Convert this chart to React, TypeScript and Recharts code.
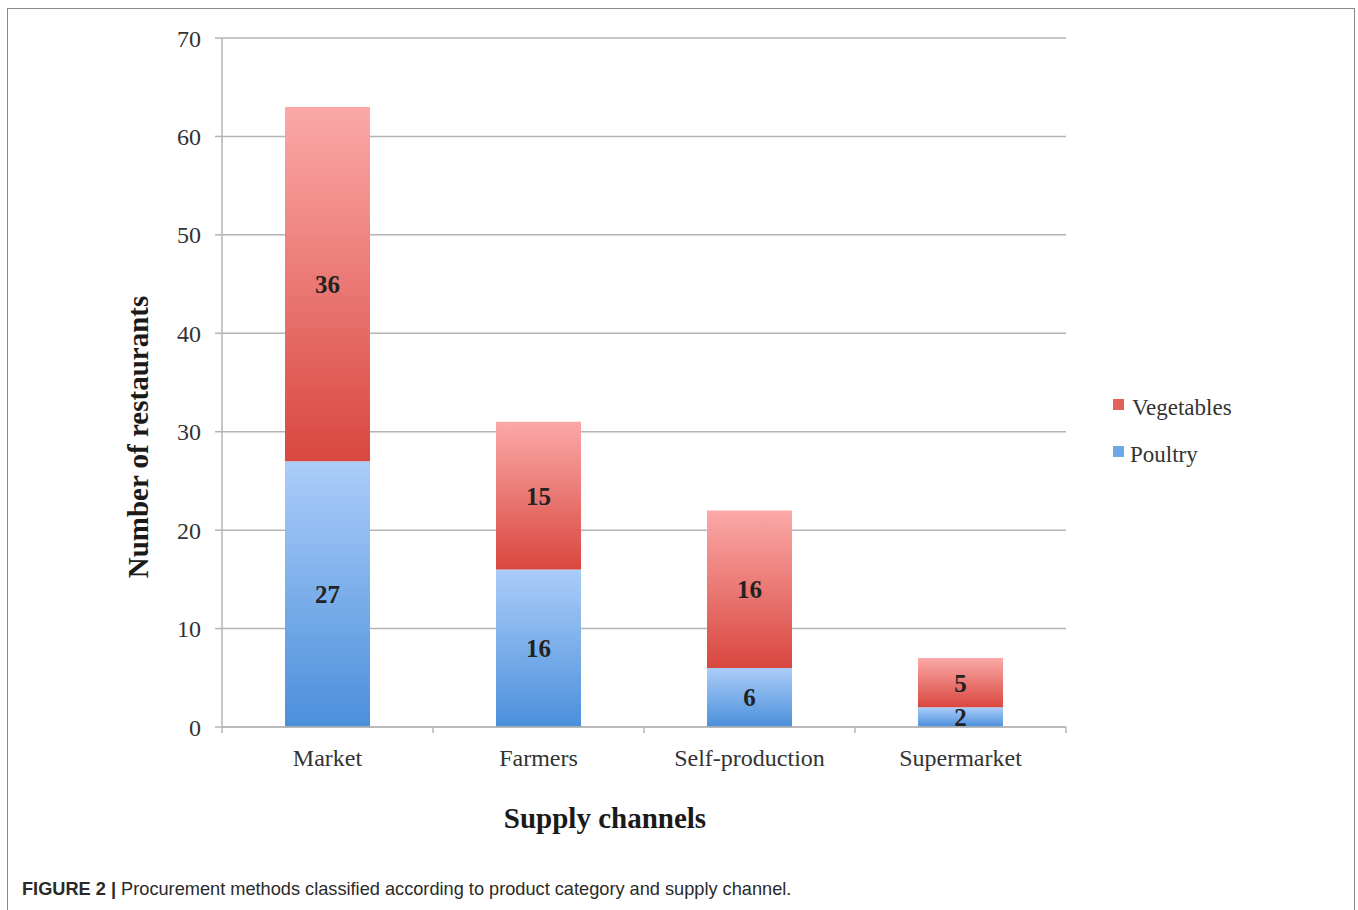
import { BarChart, Bar, XAxis, YAxis, CartesianGrid, Legend, LabelList, Label } from "recharts";

const channels = ["Market", "Farmers", "Self-production", "Supermarket"];
const poultry = [27, 16, 6, 2];
const vegetables = [36, 15, 16, 5];
const yTicks = [0, 10, 20, 30, 40, 50, 60, 70];

const data = channels.map((name, i) => ({
  name,
  Poultry: poultry[i],
  Vegetables: vegetables[i],
}));

const SERIF = '"Liberation Serif", "DejaVu Serif", serif';
const GRID = "#b4b4b4";

// plot box in chart pixels
const PLOT_LEFT = 214;
const PLOT_RIGHT = 1058;
const PLOT_BOTTOM = 718;
const BAND = (PLOT_RIGHT - PLOT_LEFT) / channels.length;
const LEGEND_W = 200;

const CategoryTick = ({ x, payload, index }: any) => {
  const i = payload?.index ?? index;
  return (
    <g>
      <line x1={x - BAND / 2} x2={x - BAND / 2} y1={PLOT_BOTTOM} y2={PLOT_BOTTOM + 6} stroke={GRID} strokeWidth={1.5} />
      {i === channels.length - 1 && (
        <line x1={x + BAND / 2} x2={x + BAND / 2} y1={PLOT_BOTTOM} y2={PLOT_BOTTOM + 6} stroke={GRID} strokeWidth={1.5} />
      )}
      <text x={x} y={PLOT_BOTTOM + 39} textAnchor="middle" fontFamily={SERIF} fontSize={24} fill="#333">
        {payload.value}
      </text>
    </g>
  );
};

const LegendBox = ({ payload }: any) => {
  const items = [...(payload || [])].reverse();
  return (
    <div style={{ fontFamily: SERIF, fontSize: 23, color: "#333" }}>
      {items.map((p: any, i: number) => (
        <div key={p.value} style={{ display: "flex", alignItems: "center", height: 47 }}>
          <span
            style={{
              width: 11,
              height: 11,
              background: p.value === "Vegetables" ? "#e2625b" : "#6fa6e6",
              marginRight: i === 0 ? 8 : 6,
              marginTop: -6,
            }}
          />
          <span>{p.value}</span>
        </div>
      ))}
    </div>
  );
};

export default function App() {
  return (
    <div
      style={{
        position: "absolute",
        left: 7,
        top: 8,
        width: 1346,
        height: 910,
        border: "1px solid #8a8a8a",
        background: "#fff",
      }}
    >
      <BarChart
        width={1346}
        height={840}
        data={data}
        margin={{ top: 29, right: 1346 - PLOT_RIGHT - LEGEND_W, bottom: 72, left: 154 }}
      >
        <defs>
          <linearGradient id="vegGrad" x1="0" y1="0" x2="0" y2="1">
            <stop offset="0%" stopColor="#fba9a8" />
            <stop offset="100%" stopColor="#d9473f" />
          </linearGradient>
          <linearGradient id="poultryGrad" x1="0" y1="0" x2="0" y2="1">
            <stop offset="0%" stopColor="#abcdf9" />
            <stop offset="100%" stopColor="#4b8fdb" />
          </linearGradient>
        </defs>
        <CartesianGrid vertical={false} stroke={GRID} strokeWidth={1.5} />
        <XAxis
          dataKey="name"
          height={50}
          axisLine={{ stroke: GRID, strokeWidth: 1.5 }}
          tickLine={false}
          tick={<CategoryTick />}
          interval={0}
        >
          <Label
            content={() => (
              <text x={597} y={819} textAnchor="middle" fontFamily={SERIF} fontWeight="bold" fontSize={29} fill="#1a1a1a">
                Supply channels
              </text>
            )}
          />
        </XAxis>
        <YAxis
          width={60}
          domain={[0, 70]}
          ticks={yTicks}
          interval={0}
          axisLine={{ stroke: GRID, strokeWidth: 1.5 }}
          tickLine={{ stroke: GRID, strokeWidth: 1.5 }}
          tickSize={7}
          tickMargin={14}
          tick={{ fontFamily: SERIF, fontSize: 24, fill: "#333" }}
        >
          <Label
            content={() => (
              <text
                x={130}
                y={428}
                transform="rotate(-90 130 428)"
                textAnchor="middle"
                dominantBaseline="central"
                fontFamily={SERIF}
                fontWeight="bold"
                fontSize={29}
                fill="#1a1a1a"
              >
                Number of restaurants
              </text>
            )}
          />
        </YAxis>
        <Legend
          layout="vertical"
          verticalAlign="top"
          align="right"
          content={<LegendBox />}
          wrapperStyle={{ left: 1105, top: 375, width: LEGEND_W }}
        />
        <Bar dataKey="Poultry" stackId="a" fill="url(#poultryGrad)" barSize={85} isAnimationActive={false}>
          <LabelList dataKey="Poultry" position="center" fill="#222" fontFamily={SERIF} fontWeight="bold" fontSize={25} />
        </Bar>
        <Bar dataKey="Vegetables" stackId="a" fill="url(#vegGrad)" barSize={85} isAnimationActive={false}>
          <LabelList dataKey="Vegetables" position="center" fill="#222" fontFamily={SERIF} fontWeight="bold" fontSize={25} />
        </Bar>
      </BarChart>
      <div
        style={{
          position: "absolute",
          left: 14,
          top: 870,
          fontFamily: '"Liberation Sans", Arial, sans-serif',
          fontSize: 18.2,
          color: "#2a2a2a",
          whiteSpace: "nowrap",
        }}
      >
        <b>FIGURE 2 |</b> Procurement methods classified according to product category and supply channel.
      </div>
    </div>
  );
}
